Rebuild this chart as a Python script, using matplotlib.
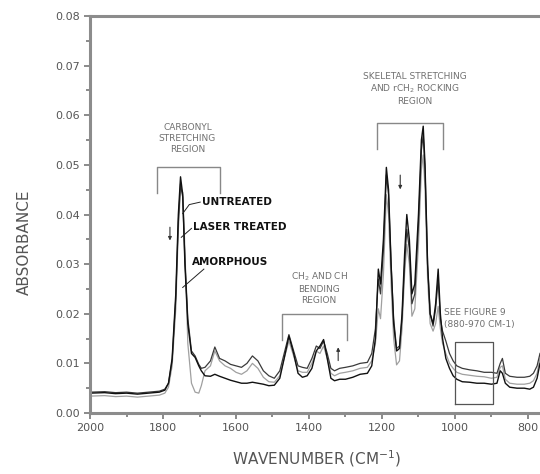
import numpy as np
import matplotlib.pyplot as plt
from matplotlib.ticker import MultipleLocator, FormatStrFormatter

# wavenumber grid (cm-1) and absorbance
wavenumber = [2000, 1960, 1930, 1900, 1870, 1840, 1810, 1795, 1785, 1775, 1765, 1758,
              1752, 1746, 1740, 1732, 1722, 1712, 1702, 1695, 1685, 1670, 1658, 1645,
              1630, 1615, 1600, 1585, 1570, 1555, 1540, 1525, 1510, 1495, 1480, 1468,
              1455, 1442, 1430, 1418, 1405, 1392, 1380, 1370, 1360, 1350, 1340, 1330,
              1316, 1300, 1280, 1260, 1240, 1228, 1218, 1210, 1204, 1196, 1188, 1182,
              1175, 1168, 1160, 1152, 1145, 1138, 1132, 1125, 1118, 1110, 1100, 1092,
              1087, 1082, 1075, 1068, 1060, 1053, 1046, 1040, 1034, 1025, 1015, 1005,
              995, 980, 960, 940, 920, 900, 885, 876, 870, 862, 850, 830, 810, 795,
              785, 775, 767]

untreated = [0.0040, 0.0041, 0.0039, 0.0040, 0.0038, 0.0040, 0.0042, 0.0046, 0.0060, 0.0110,
             0.0240, 0.0400, 0.0476, 0.0440, 0.0300, 0.0180, 0.0120, 0.0112, 0.0095, 0.0085,
             0.0075, 0.0074, 0.0078, 0.0074, 0.0070, 0.0066, 0.0063, 0.0060, 0.0060, 0.0062,
             0.0060, 0.0058, 0.0055, 0.0056, 0.0070, 0.0110, 0.0155, 0.0120, 0.0080, 0.0072,
             0.0075, 0.0090, 0.0125, 0.0135, 0.0148, 0.0110, 0.0070, 0.0065, 0.0068, 0.0068,
             0.0072, 0.0078, 0.0080, 0.0095, 0.0150, 0.0290, 0.0260, 0.0350, 0.0495, 0.0450,
             0.0300, 0.0180, 0.0125, 0.0130, 0.0200, 0.0320, 0.0400, 0.0350, 0.0240, 0.0260,
             0.0400, 0.0550, 0.0578, 0.0500, 0.0300, 0.0200, 0.0180, 0.0220, 0.0290, 0.0200,
             0.0150, 0.0110, 0.0090, 0.0075, 0.0068, 0.0063, 0.0062, 0.0060, 0.0060, 0.0058,
             0.0060, 0.0085, 0.0080, 0.0060, 0.0052, 0.0050, 0.0050, 0.0048, 0.0052, 0.0070,
             0.0100]

laser_treated = [0.0042, 0.0043, 0.0041, 0.0042, 0.0040, 0.0042, 0.0044, 0.0048, 0.0060, 0.0105,
                 0.0230, 0.0385, 0.0462, 0.0435, 0.0310, 0.0190, 0.0125, 0.0115, 0.0098, 0.0090,
                 0.0092, 0.0105, 0.0133, 0.0110, 0.0105, 0.0098, 0.0095, 0.0092, 0.0100, 0.0115,
                 0.0105, 0.0085, 0.0075, 0.0070, 0.0085, 0.0120, 0.0158, 0.0125, 0.0095, 0.0092,
                 0.0090, 0.0110, 0.0135, 0.0130, 0.0145, 0.0120, 0.0090, 0.0085, 0.0090, 0.0092,
                 0.0095, 0.0100, 0.0102, 0.0120, 0.0170, 0.0270, 0.0240, 0.0330, 0.0480, 0.0440,
                 0.0300, 0.0190, 0.0130, 0.0135, 0.0190, 0.0300, 0.0370, 0.0330, 0.0220, 0.0240,
                 0.0380, 0.0530, 0.0560, 0.0490, 0.0300, 0.0200, 0.0175, 0.0210, 0.0270, 0.0190,
                 0.0165, 0.0145, 0.0120, 0.0105, 0.0095, 0.0090, 0.0087, 0.0085, 0.0082, 0.0082,
                 0.0080, 0.0100, 0.0110, 0.0080, 0.0074, 0.0072, 0.0072, 0.0074, 0.0080, 0.0095,
                 0.0120]

amorphous = [0.0034, 0.0035, 0.0033, 0.0034, 0.0032, 0.0034, 0.0036, 0.0040, 0.0052, 0.0095,
             0.0210, 0.0370, 0.0450, 0.0445, 0.0330, 0.0140, 0.0060, 0.0042, 0.0040, 0.0055,
             0.0085, 0.0095, 0.0125, 0.0105, 0.0095, 0.0090, 0.0082, 0.0078, 0.0085, 0.0100,
             0.0090, 0.0072, 0.0063, 0.0062, 0.0075, 0.0110, 0.0145, 0.0115, 0.0085, 0.0082,
             0.0082, 0.0100, 0.0125, 0.0120, 0.0135, 0.0110, 0.0080, 0.0075, 0.0080, 0.0082,
             0.0085, 0.0090, 0.0092, 0.0105, 0.0140, 0.0210, 0.0190, 0.0280, 0.0440, 0.0400,
             0.0260, 0.0150, 0.0097, 0.0105, 0.0170, 0.0280, 0.0340, 0.0300, 0.0195, 0.0210,
             0.0340, 0.0490, 0.0520, 0.0450, 0.0270, 0.0180, 0.0165, 0.0180, 0.0215, 0.0170,
             0.0140, 0.0120, 0.0100, 0.0090, 0.0082, 0.0078, 0.0076, 0.0074, 0.0073, 0.0070,
             0.0072, 0.0092, 0.0095, 0.0068, 0.0060, 0.0058, 0.0058, 0.0060, 0.0065, 0.0080,
             0.0110]

plt.rcParams['font.family'] = ['DejaVu Sans']

fig = plt.figure(figsize=(5.4, 4.74), dpi=100)
ax = fig.add_axes([0.1667, 0.1287, 0.8333, 0.8375])

ax.plot(wavenumber, amorphous, color='#a0a0a0', lw=0.9)
ax.plot(wavenumber, laser_treated, color='#3a3a3a', lw=0.9)
ax.plot(wavenumber, untreated, color='#111111', lw=1.0)

ax.set_xlim(2000, 767)
ax.set_ylim(0, 0.08)
ax.xaxis.set_major_locator(MultipleLocator(200))
ax.xaxis.set_minor_locator(MultipleLocator(100))
ax.yaxis.set_major_locator(MultipleLocator(0.01))
ax.yaxis.set_minor_locator(MultipleLocator(0.005))
ax.yaxis.set_major_formatter(FormatStrFormatter('%.2f'))

grey = '#777777'
for side in ['left', 'bottom', 'top']:
    ax.spines[side].set_color('#8c8c8c')
    ax.spines[side].set_linewidth(2.2)
ax.spines['right'].set_visible(False)
ax.tick_params(which='major', direction='out', length=4, width=1.2, color=grey,
               labelsize=8, labelcolor='#555555', pad=3)
ax.tick_params(which='minor', direction='out', length=3, width=1.2, color=grey)

ax.set_xlabel('WAVENUMBER (CM$^{-1}$)', fontsize=11, color='#555555')
ax.set_ylabel('ABSORBANCE', fontsize=11, color='#555555')
ax.xaxis.set_label_coords(0.504, -0.09)
ax.yaxis.set_label_coords(-0.13, 0.43)

txt = dict(fontsize=6.5, color='#707070', ha='center', va='center', linespacing=1.25)
brk = dict(color='#888888', lw=1.0)

# region brackets and their captions
ax.plot([1816, 1816, 1644, 1644], [0.0443, 0.0495, 0.0495, 0.0443], **brk)
ax.text(1733, 0.0553, 'CARBONYL\nSTRETCHING\nREGION', **txt)

ax.plot([1214, 1214, 1033, 1033], [0.0533, 0.0584, 0.0584, 0.0533], **brk)
ax.text(1110, 0.0653, 'SKELETAL STRETCHING\nAND rCH$_2$ ROCKING\nREGION', **txt)

ax.plot([1474, 1474, 1296, 1296], [0.0147, 0.0199, 0.0199, 0.0147], **brk)
ax.text(1372, 0.0252, 'CH$_2$ AND CH\nBENDING\nREGION', **txt)

ax.plot([1000, 1000, 895, 895, 1000], [0.0018, 0.0143, 0.0143, 0.0018, 0.0018],
        color='#555555', lw=0.9)
ax.text(1030, 0.0190, 'SEE FIGURE 9\n(880-970 CM-1)', fontsize=6.5, color='#707070',
        ha='left', va='center', linespacing=1.4)

# curve labels with leader lines
lab = dict(fontsize=7.5, fontweight='bold', color='#111111', ha='left', va='center')
ax.text(1694, 0.0425, 'UNTREATED', **lab)
ax.plot([1746, 1728, 1698], [0.0402, 0.0420, 0.0425], color='#222222', lw=0.7)
ax.text(1718, 0.0375, 'LASER TREATED', **lab)
ax.plot([1750, 1722], [0.0354, 0.0372], color='#222222', lw=0.7)
ax.text(1720, 0.0305, 'AMORPHOUS', **lab)
ax.plot([1746, 1688], [0.0253, 0.0290], color='#222222', lw=0.7)

# small arrows
arr = dict(arrowstyle='-|>', color='#333333', lw=0.8, mutation_scale=5)
ax.annotate('', xy=(1781, 0.0342), xytext=(1781, 0.0380), arrowprops=arr)
ax.annotate('', xy=(1150, 0.0445), xytext=(1150, 0.0485), arrowprops=arr)
ax.annotate('', xy=(1320, 0.0138), xytext=(1320, 0.0100), arrowprops=arr)

fig.savefig('out.png', dpi=100)
